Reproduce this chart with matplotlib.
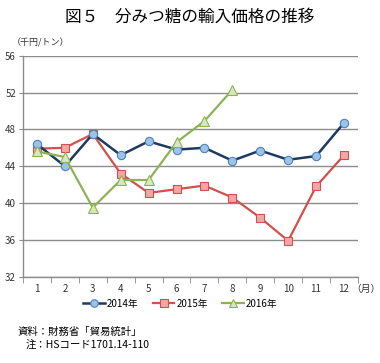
import matplotlib
matplotlib.use("Agg")
import matplotlib.pyplot as plt
from matplotlib.ticker import FixedLocator

plt.rcParams['font.family'] = ['Noto Sans CJK JP', 'DejaVu Sans']

months = list(range(1, 13))
month_labels = [str(m) for m in months]
yticks = [32, 36, 40, 44, 48, 52, 56]

v2014 = [46.4, 44.0, 47.5, 45.2, 46.7, 45.8, 46.0, 44.6, 45.7, 44.7, 45.1, 48.7]
v2015 = [45.9, 46.0, 47.5, 43.2, 41.1, 41.5, 41.9, 40.6, 38.4, 35.9, 41.8, 45.2]
v2016 = [45.6, 45.0, 39.5, 42.5, 42.5, 46.6, 48.9, 52.3]

fig = plt.figure(figsize=(3.8, 3.63), dpi=100)
ax = fig.add_axes([0.0605, 0.2377, 0.8815, 0.6089])

ax.plot(months, v2014, color="#1F3A5F", lw=1.8, marker="o", ms=6,
        mfc="#9DC3E6", mec="#4F81BD", mew=0.8, label="2014年", zorder=4)
ax.plot(months, v2015, color="#D0504D", lw=1.6, marker="s", ms=6,
        mfc="#F4A6A4", mec="#D0504D", mew=0.8, label="2015年", zorder=3)
ax.plot(months[:len(v2016)], v2016, color="#8DB356", lw=1.6, marker="^", ms=6.5,
        mfc="#D7E8BC", mec="#8DB356", mew=0.8, label="2016年", zorder=5)

ax.set_xlim(0.5, 12.5)
ax.set_ylim(32, 56)
ax.set_yticks(yticks)
ax.set_xticks(months)
ax.set_xticklabels(month_labels)
ax.xaxis.set_minor_locator(FixedLocator([m + 0.5 for m in range(0, 13)]))
ax.tick_params(axis="x", which="major", length=0, labelsize=7, pad=5, colors="#333333")
ax.tick_params(axis="x", which="minor", length=4, direction="out", color="#888888")
ax.tick_params(axis="y", length=3, direction="out", labelsize=7, color="#888888",
               labelcolor="#333333", pad=2)
ax.grid(axis="y", color="#8C8C8C", lw=1.0)
ax.set_axisbelow(True)
for s in ["top", "right"]:
    ax.spines[s].set_visible(False)
for s in ["left", "bottom"]:
    ax.spines[s].set_color("#8C8C8C")
    ax.spines[s].set_linewidth(1.0)

ax.annotate("（月）", xy=(12.25, 0), xycoords=ax.get_xaxis_transform(),
            xytext=(0, -5), textcoords="offset points",
            fontsize=7, color="#333333", ha="left", va="top")

fig.text(0.5, 0.953, "図５　分みつ糖の輸入価格の推移", fontsize=12, ha="center", va="center")
fig.text(0.03, 0.883, "（千円/トン）", fontsize=6.5, ha="left", va="center", color="#333333")

ax.legend(loc="upper center", bbox_to_anchor=(0.47, -0.06), ncol=3, frameon=False,
          fontsize=7, handlelength=2.2, handletextpad=0.2, columnspacing=1.5,
          markerscale=0.9)

fig.text(0.045, 0.0854, "資料：財務省「貿易統計」", fontsize=7.5, ha="left", va="center")
fig.text(0.068, 0.0496, "注：HSコード1701.14-110", fontsize=7.5, ha="left", va="center")

fig.savefig("out.png", dpi=100)
